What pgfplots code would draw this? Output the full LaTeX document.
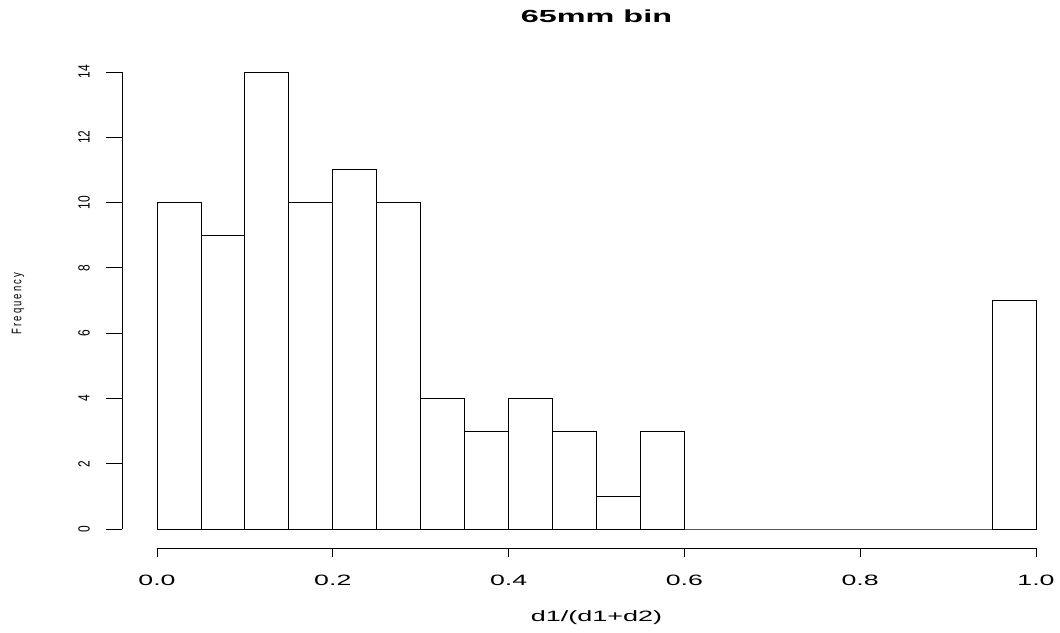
\documentclass[border=0pt]{standalone}
\usepackage{fontspec}
\setmainfont{Liberation Sans}
\usepackage{pgfplots}
\pgfplotsset{compat=1.18}
\begin{document}
\begin{tikzpicture}[x=1pt,y=1pt]
\useasboundingbox (0,0) rectangle (1060,632);
\begin{axis}[
  at={(157pt,103pt)}, anchor=south west,
  scale only axis, width=879pt, height=457pt,
  xmin=0, xmax=1, ymin=0, ymax=14,
  clip=false,
  axis line style={draw=none},
  major tick length=0pt,
  xtick={0,0.2,0.4,0.6,0.8,1},
  xticklabels={0.0,0.2,0.4,0.6,0.8,1.0},
  ytick={0,2,4,6,8,10,12,14},
  /pgf/number format/assume math mode=true,
  xticklabel style={anchor=center, yshift=-51pt, xscale=1.78, font=\fontsize{15}{18}\selectfont},
  yticklabel style={anchor=center, xshift=-73pt, xscale=1.35, rotate=90, font=\fontsize{12}{14}\selectfont},
  title={65mm bin},
  every axis title/.style={at={(axis description cs:0.5,1)}, anchor=center, yshift=56pt, xscale=1.85, font=\bfseries\fontsize{17.5}{20}\selectfont},
  xlabel={d1/(d1+d2)},
  every axis x label/.style={at={(axis description cs:0.5,0)}, anchor=center, yshift=-89pt, xscale=1.8, font=\fontsize{15}{18}\selectfont},
  ylabel={Frequency},
  every axis y label/.style={at={(axis description cs:0,0.5)}, anchor=center, xshift=-139pt, yshift=-3pt, xscale=1.45, rotate=90, font=\fontsize{9.5}{11}\selectfont\addfontfeatures{LetterSpace=22}},
]
\addplot[ybar interval, draw=black, fill=white, line width=0.9pt] coordinates {
(0,10) (0.05,9) (0.1,14) (0.15,10) (0.2,11) (0.25,10) (0.3,4) (0.35,3)
(0.4,4) (0.45,3) (0.5,1) (0.55,3) (0.6,0) (0.65,0) (0.7,0) (0.75,0)
(0.8,0) (0.85,0) (0.9,0) (0.95,7) (1.0,7)
};
% R-style detached axes
\draw[line width=0.9pt] ([xshift=-35pt]axis cs:0,0) -- ([xshift=-35pt]axis cs:0,14);
\pgfplotsinvokeforeach{0,2,4,6,8,10,12,14}{
  \draw[line width=0.9pt] ([xshift=-35pt]axis cs:0,#1) -- ([xshift=-51pt]axis cs:0,#1);
}
\draw[line width=0.9pt] ([yshift=-19pt]axis cs:0,0) -- ([yshift=-19pt]axis cs:1,0);
\pgfplotsinvokeforeach{0,0.2,0.4,0.6,0.8,1}{
  \draw[line width=0.9pt] ([yshift=-19pt]axis cs:#1,0) -- ([yshift=-28pt]axis cs:#1,0);
}
\end{axis}
\end{tikzpicture}
\end{document}
